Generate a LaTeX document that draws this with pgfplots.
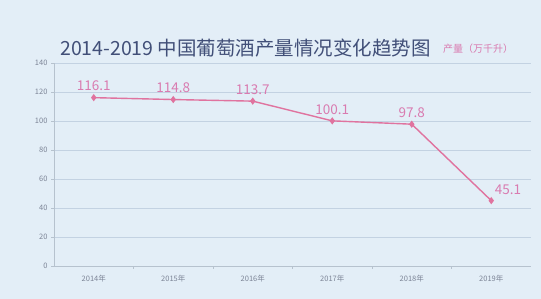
\documentclass[border=0pt]{standalone}
\usepackage{fontspec}
\setmainfont{Noto Sans CJK SC}
\usepackage{pgfplots}
\pgfplotsset{compat=1.18}
\definecolor{bg}{HTML}{E3EEF7}
\definecolor{linepink}{HTML}{E0739F}
\definecolor{labpink}{HTML}{D97BB0}
\definecolor{titleblue}{HTML}{414F78}
\definecolor{gridc}{HTML}{C3D2E2}
\definecolor{tickc}{HTML}{7C8496}
\begin{document}
\begin{tikzpicture}
\useasboundingbox (0,0) rectangle (541pt,299pt);
\fill[bg] (0,0) rectangle (541pt,299pt);
\node[text=titleblue, font=\fontsize{19.5}{22}\selectfont, anchor=west, inner sep=0pt] at (60pt,251pt) {2014-2019 中国葡萄酒产量情况变化趋势图};
\node[text=labpink, font=\fontsize{10}{12}\selectfont, anchor=west, inner sep=0pt] at (443pt,250pt) {产量（万千升）};
\begin{axis}[
  at={(54pt,33pt)}, anchor=south west,
  scale only axis, width=477pt, height=203pt,
  xmin=-0.5, xmax=5.5, ymin=0, ymax=140,
  xtick={0,1,2,3,4,5},
  xticklabels={2014年,2015年,2016年,2017年,2018年,2019年},
  minor xtick={0.5,1.5,2.5,3.5,4.5},
  ytick={0,20,40,60,80,100,120,140},
  ymajorgrids, grid style={gridc, line width=0.6pt},
  axis x line*=bottom, axis y line*=left,
  axis line style={gridc!80!gray, line width=0.6pt},
  x axis line style={-}, y axis line style={-},
  major x tick style={draw=none},
  minor x tick style={gridc!80!gray, line width=0.5pt},
  minor tick length=3pt,
  major y tick style={gridc!80!gray},
  major tick length=3pt,
  tick align=outside,
  ticklabel style={text=tickc, font=\fontsize{7.5}{9}\selectfont},
  /pgf/number format/assume math mode=true,
  xticklabel style={yshift=-3pt},
  clip=false,
]
\addplot[linepink, line width=1.4pt, mark=diamond*, mark size=2.5pt, mark options={fill=linepink}]
  coordinates {(0,116.1) (1,114.8) (2,113.7) (3,100.1) (4,97.8) (5,45.1)};
\addplot[draw=none, nodes near coords, point meta=explicit symbolic,
  every node near coord/.style={text=labpink, font=\fontsize{13.5}{15}\selectfont, anchor=south, yshift=3pt}]
  coordinates {(0,116.1) [116.1] (1,114.8) [114.8] (2,113.7) [113.7] (3,100.1) [100.1] (4,97.8) [97.8]};
\addplot[draw=none, nodes near coords, point meta=explicit symbolic,
  every node near coord/.style={text=labpink, font=\fontsize{13.5}{15}\selectfont, anchor=south west, xshift=0pt, yshift=2pt}]
  coordinates {(5,45.1) [45.1]};
\end{axis}
\end{tikzpicture}
\end{document}
